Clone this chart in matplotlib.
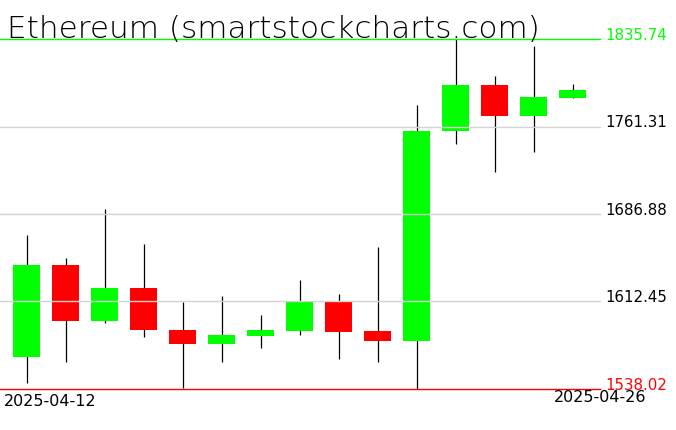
import matplotlib
matplotlib.use("Agg")
import matplotlib.pyplot as plt
import numpy as np

title = "Ethereum (smartstockcharts.com)"
dates = ["2025-04-12", "2025-04-13", "2025-04-14", "2025-04-15", "2025-04-16",
         "2025-04-17", "2025-04-18", "2025-04-19", "2025-04-20", "2025-04-21",
         "2025-04-22", "2025-04-23", "2025-04-24", "2025-04-25", "2025-04-26"]
opens = [1565.0, 1643.5, 1595.8, 1623.8, 1588.0, 1575.9, 1582.8, 1587.0,
         1611.8, 1587.0, 1578.5, 1757.3, 1796.6, 1770.1, 1785.5]
closes = [1643.5, 1595.8, 1623.8, 1588.1, 1575.9, 1583.6, 1588.0, 1611.8,
          1586.2, 1578.5, 1757.3, 1796.6, 1770.1, 1786.4, 1792.3]
highs = [1669.2, 1649.5, 1691.4, 1661.5, 1611.6, 1617.0, 1600.7, 1630.7,
         1618.7, 1658.9, 1779.5, 1835.74, 1804.3, 1830.0, 1797.5]
lows = [1542.8, 1560.8, 1594.1, 1582.2, 1538.5, 1561.4, 1572.8, 1583.6,
        1563.9, 1561.4, 1538.02, 1746.1, 1722.2, 1739.3, 1785.5]

W, H = 676, 431
fig = plt.figure(figsize=(W / 100, H / 100), dpi=100)
fig.patch.set_facecolor("white")

top_px, bot_px, right_px = 40, 390, 600
ax = fig.add_axes([0, (H - bot_px) / H, right_px / W, (bot_px - top_px) / H])
ax.set_axis_off()

x = np.arange(len(dates))
o = np.array(opens); c = np.array(closes)
hi = np.array(highs); lo = np.array(lows)
ymax, ymin = hi.max(), lo.min()

ax.set_xlim(-26.7 / 39, (right_px - 26.7) / 39)
ax.set_ylim(ymin, ymax)

up = c >= o
colors = np.where(up, "#00FF00", "#FF0000")
ax.vlines(x, lo, hi, color="black", linewidth=0.9, zorder=1)
ax.bar(x, np.abs(c - o), bottom=np.minimum(o, c), width=0.69,
       color=colors, linewidth=0, zorder=2)

step = (ymax - ymin) / 4
for k in range(5):
    v = ymin + k * step
    if k == 0:
        col, tcol = "#FF0000", "#FF0000"
    elif k == 4:
        col, tcol = "#00FF00", "#00FF00"
    else:
        col, tcol = "#D3D3D3", "black"
    ax.axhline(v, color=col, linewidth=1.0, zorder=3, clip_on=False)
    ax.text(605.7 / right_px, v, f"{v:.2f}", transform=ax.get_yaxis_transform(),
            ha="left", va="baseline", fontsize=10.8, color=tcol,
            family="DejaVu Sans", clip_on=False, zorder=4)

fig.text(6.7 / W, 1 - 37.5 / H, title, ha="left", va="baseline",
         fontsize=22.4, color="black", family="DejaVu Sans", fontweight="light")

fig.text(4 / W, 1 - 406 / H, dates[0], ha="left", va="baseline",
         fontsize=11.5, color="black", family="DejaVu Sans")
fig.text(646 / W, 1 - 402.5 / H, dates[-1], ha="right", va="baseline",
         fontsize=11.5, color="black", family="DejaVu Sans", zorder=5)

fig.savefig("out.png", dpi=100, facecolor="white")
